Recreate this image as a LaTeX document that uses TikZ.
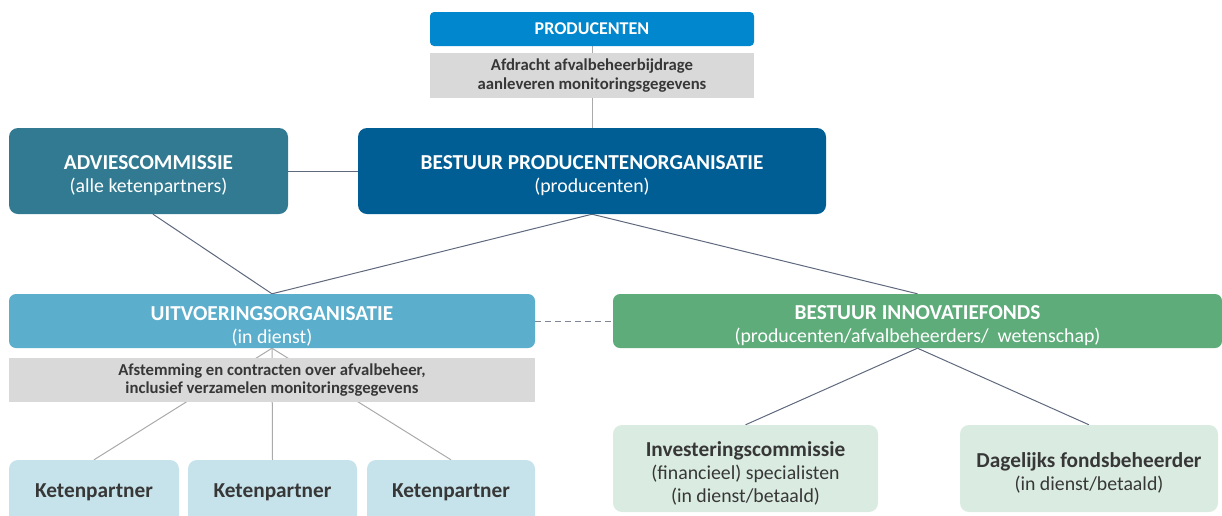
\documentclass[tikz,border=0pt]{standalone}
\usepackage{fontspec}
\setmainfont{Carlito}
\usetikzlibrary{backgrounds}
\definecolor{cprod}{RGB}{0,135,205}
\definecolor{cbpo}{RGB}{0,94,148}
\definecolor{cadv}{RGB}{49,122,145}
\definecolor{cuitv}{RGB}{91,174,204}
\definecolor{cinno}{RGB}{94,172,122}
\definecolor{ckp}{RGB}{198,226,235}
\definecolor{cinv}{RGB}{218,236,225}
\definecolor{cgrey}{RGB}{217,217,217}
\definecolor{ctxt}{RGB}{55,55,55}
\definecolor{cline}{RGB}{95,105,125}
\definecolor{clight}{RGB}{170,170,170}
\newcommand\rgfont{\fontsize{19.8}{23}\selectfont}
\newcommand\bdfont{\fontsize{21.3}{23}\selectfont\bfseries}
\newcommand\subfont{\fontsize{16.7}{18.5}\selectfont}
\newcommand\tallstrut{\rule{0pt}{24pt}}
\tikzset{
  box/.style={rectangle, rounded corners=#1, inner sep=0pt, align=center, text=white},
  box/.default=9pt,
  greybox/.style={rectangle, fill=cgrey, inner sep=0pt, align=center, text=ctxt, font=\subfont\bfseries},
  conn/.style={draw=cline, line width=1pt},
  lconn/.style={draw=clight, line width=1pt},
}
\begin{document}
\begin{tikzpicture}[x=1pt,y=-1pt]
\useasboundingbox (0,0) rectangle (1222,515);
\clip (0,0) rectangle (1222,515);
\node[box=4pt, fill=cprod, minimum width=324pt, minimum height=34pt, font=\fontsize{18}{20}\selectfont\bfseries] (prod) at (592,29) {PRODUCENTEN};
\node[greybox, minimum width=324pt, minimum height=45pt] (afdr) at (592,75.5) {Afdracht afvalbeheerbijdrage\\aanleveren monitoringsgegevens};
\node[box, fill=cadv, minimum width=279pt, minimum height=86pt, font=\rgfont] (adv) at (148.5,171) {\tallstrut{\bdfont ADVIESCOMMISSIE}\\(alle ketenpartners)};
\node[box, fill=cbpo, minimum width=468pt, minimum height=86pt, font=\rgfont] (bpo) at (592,171) {\tallstrut{\bdfont BESTUUR PRODUCENTENORGANISATIE}\\(producenten)};
\node[box=7pt, fill=cuitv, minimum width=526pt, minimum height=54pt, font=\rgfont] (uitv) at (272,321) {\tallstrut{\bdfont UITVOERINGSORGANISATIE}\\(in dienst)};
\node[box=7pt, fill=cinno, minimum width=609pt, minimum height=54pt, font=\rgfont] (inno) at (917.5,321) {\tallstrut{\bdfont BESTUUR INNOVATIEFONDS}\\(producenten/afvalbeheerders/\ \ wetenschap)};
\node[greybox, minimum width=526pt, minimum height=44pt] (afst) at (272,380) {Afstemming en contracten over afvalbeheer,\\inclusief verzamelen monitoringsgegevens};
\node[box, fill=ckp, text=ctxt, minimum width=170pt, minimum height=65pt, font=\bdfont] (kp1) at (94,492.5) {Ketenpartner};
\node[box, fill=ckp, text=ctxt, minimum width=169pt, minimum height=65pt, font=\bdfont] (kp2) at (272.5,492.5) {Ketenpartner};
\node[box, fill=ckp, text=ctxt, minimum width=168pt, minimum height=65pt, font=\bdfont] (kp3) at (451,492.5) {Ketenpartner};
\node[box, fill=cinv, text=ctxt, minimum width=265pt, minimum height=87pt, font=\rgfont] (inv) at (745.5,468.5) {\tallstrut{\bdfont Investeringscommissie}\\(financieel) specialisten\\(in dienst/betaald)};
\node[box, fill=cinv, text=ctxt, minimum width=258pt, minimum height=87pt, font=\rgfont] (dag) at (1089,468.5) {\tallstrut{\bdfont Dagelijks fondsbeheerder}\\(in dienst/betaald)};
\begin{pgfonlayer}{background}
\draw[lconn] (prod.south) -- (bpo.north);
\draw[conn] (adv.east) -- (bpo.west);
\draw[conn] ([xshift=4.5pt]adv.south) -- (uitv.north);
\draw[conn] (bpo.south) -- (uitv.north);
\draw[conn] (bpo.south) -- (inno.north);
\draw[conn] (inno.south) -- (inv.north);
\draw[conn] (inno.south) -- (dag.north);
\draw[lconn] (uitv.south) -- (kp1.north);
\draw[lconn] (uitv.south) -- (kp2.north);
\draw[lconn] (uitv.south) -- (kp3.north);
\draw[draw=cline!80, line width=1pt, dash pattern=on 6pt off 4pt] (uitv.east) -- (inno.west);
\end{pgfonlayer}
\end{tikzpicture}
\end{document}
